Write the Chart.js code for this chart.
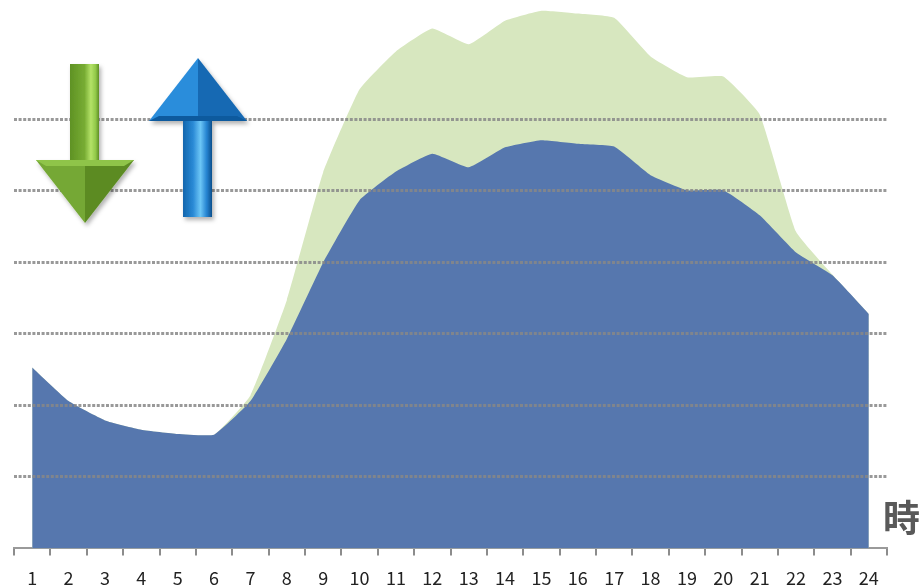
<!DOCTYPE html>
<html>
<head>
<meta charset="utf-8">
<script src="https://cdn.jsdelivr.net/npm/chart.js@4/dist/chart.umd.min.js"></script>
<style>
  html, body { margin: 0; padding: 0; background: #fff; overflow: hidden; }
  #wrap { position: relative; width: 923px; height: 611px; }
  #arrows { position: absolute; left: 0; top: 0; }
  #unit {
    position: absolute; left: 883px; top: 489px;
    font: bold 37px "Noto Sans CJK JP", sans-serif; color: #595959;
  }
</style>
</head>
<body>
<div id="wrap">
  <canvas id="loadChart" width="923" height="611"></canvas>
  <svg id="arrows" width="260" height="240">
    <defs>
      <filter id="sh" x="-20%" y="-20%" width="140%" height="140%">
        <feDropShadow dx="2" dy="3" stdDeviation="2" flood-color="#000" flood-opacity="0.3"/>
      </filter>
      <linearGradient id="gShaft" x1="0" x2="1" y1="0" y2="0">
        <stop offset="0" stop-color="#5f9224"/>
        <stop offset="0.5" stop-color="#77ac33"/>
        <stop offset="0.72" stop-color="#b4e268"/>
        <stop offset="0.88" stop-color="#92c94a"/>
        <stop offset="1" stop-color="#5e8e25"/>
      </linearGradient>
      <linearGradient id="bShaft" x1="0" x2="1" y1="0" y2="0">
        <stop offset="0" stop-color="#1266ad"/>
        <stop offset="0.35" stop-color="#2a8ad6"/>
        <stop offset="0.6" stop-color="#6cc6f6"/>
        <stop offset="0.82" stop-color="#2482d0"/>
        <stop offset="1" stop-color="#0d4f8c"/>
      </linearGradient>
    </defs>
    <!-- green down arrow -->
    <g filter="url(#sh)">
      <rect x="70" y="64" width="29" height="98" fill="url(#gShaft)"/>
      <polygon points="36,160 85,160 85,223" fill="#74a834"/>
      <polygon points="85,160 134,160 85,223" fill="#5c8b24"/>
      <polygon points="36,160 134,160 124,166 46,166" fill="#8fc449"/>
    </g>
    <!-- blue up arrow -->
    <g filter="url(#sh)">
      <rect x="183" y="119" width="29" height="98" fill="url(#bShaft)"/>
      <polygon points="149,121 198,58 198,121" fill="#2b8ddb"/>
      <polygon points="198,58 247,121 198,121" fill="#1669b3"/>
      <polygon points="149,121 247,121 237,116 159,116" fill="#0f5a9e"/>
    </g>
  </svg>
  <div id="unit">時</div>
</div>
<script>
// hours of the day
const hours = ['1', '2', '3', '4', '5', '6', '7', '8', '9', '10', '11', '12',
               '13', '14', '15', '16', '17', '18', '19', '20', '21', '22', '23', '24']
// lower (blue) area
const baseLoad = [2.53, 2.06, 1.79, 1.66, 1.60, 1.59, 2.06, 2.93, 4.00, 4.87, 5.27, 5.52,
                  5.33, 5.61, 5.71, 5.66, 5.62, 5.22, 5.01, 5.01, 4.66, 4.14, 3.82, 3.28]
// upper (green) area
const peakLoad = [2.53, 2.06, 1.79, 1.66, 1.60, 1.59, 2.14, 3.47, 5.26, 6.42, 6.95, 7.27,
                  7.05, 7.38, 7.52, 7.48, 7.42, 6.88, 6.59, 6.60, 6.07, 4.43, 3.83, 3.28]
// dotted grid levels
const gridValues = [1, 2, 3, 4, 5, 6]

const ctx = document.getElementById('loadChart')
const myChart = new Chart(ctx, {
  type: 'line',
  data: {
    labels: hours,
    datasets: [{
      label: 'base',
      data: baseLoad,
      backgroundColor: '#5677ae',
      borderWidth: 0,
      pointRadius: 0,
      tension: 0.12,
      fill: 'origin'
    }, {
      label: 'peak',
      data: peakLoad,
      backgroundColor: '#d7e7bf',
      borderWidth: 0,
      pointRadius: 0,
      tension: 0.12,
      fill: 'origin'
    }]
  },
  options: {
    responsive: false,
    animation: false,
    devicePixelRatio: 1,
    layout: { padding: { left: 14, right: 36, top: 0, bottom: 10 } },
    plugins: { legend: { display: false }, tooltip: { enabled: false } },
    scales: {
      x: {
        offset: true,
        grid: { offset: true, drawOnChartArea: false, tickLength: 7, color: '#8c8c8c', lineWidth: 2 },
        border: { display: true, color: '#9a9a9a', width: 2 },
        ticks: {
          color: '#222', padding: 12, autoSkip: false, maxRotation: 0,
          font: { family: '"Noto Sans CJK JP", sans-serif', size: 18 }
        }
      },
      y: {
        min: 0,
        max: 7.67,
        afterBuildTicks: (scale) => { scale.ticks = gridValues.map(v => ({ value: v })) },
        ticks: { display: false },
        grid: { z: 1, color: 'rgba(135,135,135,0.85)', lineWidth: 3, drawTicks: false },
        border: { display: false, dash: [3, 1.6] }
      }
    }
  }
})
</script>
</body>
</html>
